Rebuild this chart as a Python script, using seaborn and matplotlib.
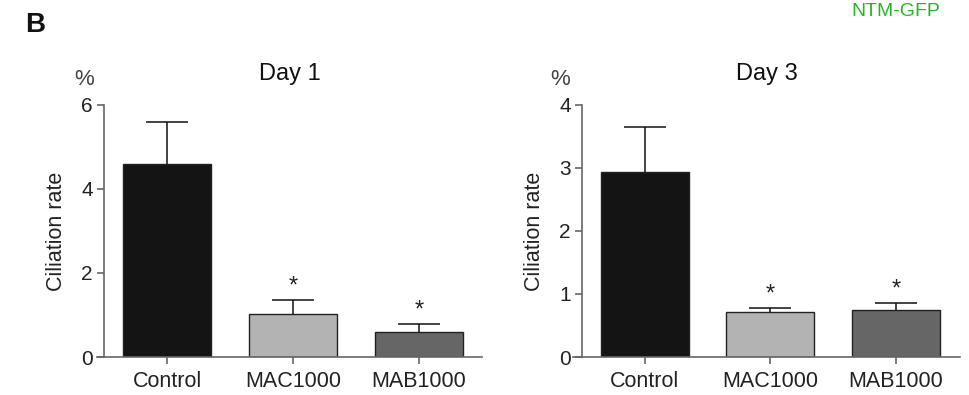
import numpy as np
import pandas as pd
import seaborn as sns
import matplotlib.pyplot as plt

# values
groups = ['Control', 'MAC1000', 'MAB1000']
day1_mean = [4.6, 1.02, 0.60]
day1_sem = [1.0, 0.34, 0.18]
day3_mean = [2.93, 0.71, 0.75]
day3_sem = [0.72, 0.07, 0.11]
significant = [False, True, True]
bar_colors = ['#141414', '#b3b3b3', '#666666']

sns.set_style('ticks')
plt.rcParams['font.family'] = ['Liberation Sans', 'DejaVu Sans']

fig = plt.figure(figsize=(9.69, 3.95), dpi=100)
ax1 = fig.add_axes([0.1001, 0.0962, 0.3973, 0.638])
ax2 = fig.add_axes([0.5913, 0.0962, 0.3994, 0.638])

panels = [
    (ax1, 'Day 1', day1_mean, day1_sem, 6, [0, 2, 4, 6], (-0.556, 2.5)),
    (ax2, 'Day 3', day3_mean, day3_sem, 4, [0, 1, 2, 3, 4], (-0.57, 2.51)),
]

for ax, title, mean, sem, ymax, yticks, xlim in panels:
    df = pd.DataFrame({'group': groups, 'rate': mean})
    sns.barplot(data=df, x='group', y='rate', hue='group', palette=bar_colors,
                legend=False, width=0.7, edgecolor='#222222', linewidth=1.0,
                errorbar=None, ax=ax)
    xpos = np.arange(len(groups))
    eb = ax.errorbar(xpos, mean, yerr=[np.zeros(len(sem)), sem], fmt='none',
                     ecolor='#111111', elinewidth=1.1, capsize=15, capthick=1.1)
    # one-sided bars: hide the cap at the bar top
    eb[1][0].set_visible(False)
    for x, m, s, sig in zip(xpos, mean, sem, significant):
        if sig:
            ax.annotate('*', (x, m + s), xytext=(0, 2), textcoords='offset points',
                        ha='center', va='bottom', fontsize=17, color='#222222')

    ax.set_ylim(0, ymax)
    ax.set_xlim(*xlim)
    ax.set_yticks(yticks)
    ax.set_xlabel('')
    ax.set_ylabel('Ciliation rate', fontsize=15.5, color='#222222', labelpad=10)
    ax.set_title(title, fontsize=17, color='#111111', pad=18)
    ax.text(-0.034, 1.1, '%', transform=ax.transAxes, fontsize=16,
            ha='center', va='center', color='#444444')

    for side in ['top', 'right']:
        ax.spines[side].set_visible(False)
    ax.spines['left'].set_position(('data', -0.5))
    for side in ['left', 'bottom']:
        ax.spines[side].set_color('#666666')
        ax.spines[side].set_linewidth(1.2)
    ax.tick_params(axis='y', labelsize=15, colors='#666666', labelcolor='#222222',
                   length=5, width=1.2, pad=3)
    ax.tick_params(axis='x', labelsize=15.5, colors='#666666', labelcolor='#222222',
                   length=5, width=1.2, pad=5)

fig.text(0.026, 0.92, 'B', fontsize=20, fontweight='bold', color='#111111')
fig.text(0.97, 0.993, 'NTM-GFP', fontsize=14, color='#22b822',
         ha='right', va='top')

fig.savefig('out.png', dpi=100)
